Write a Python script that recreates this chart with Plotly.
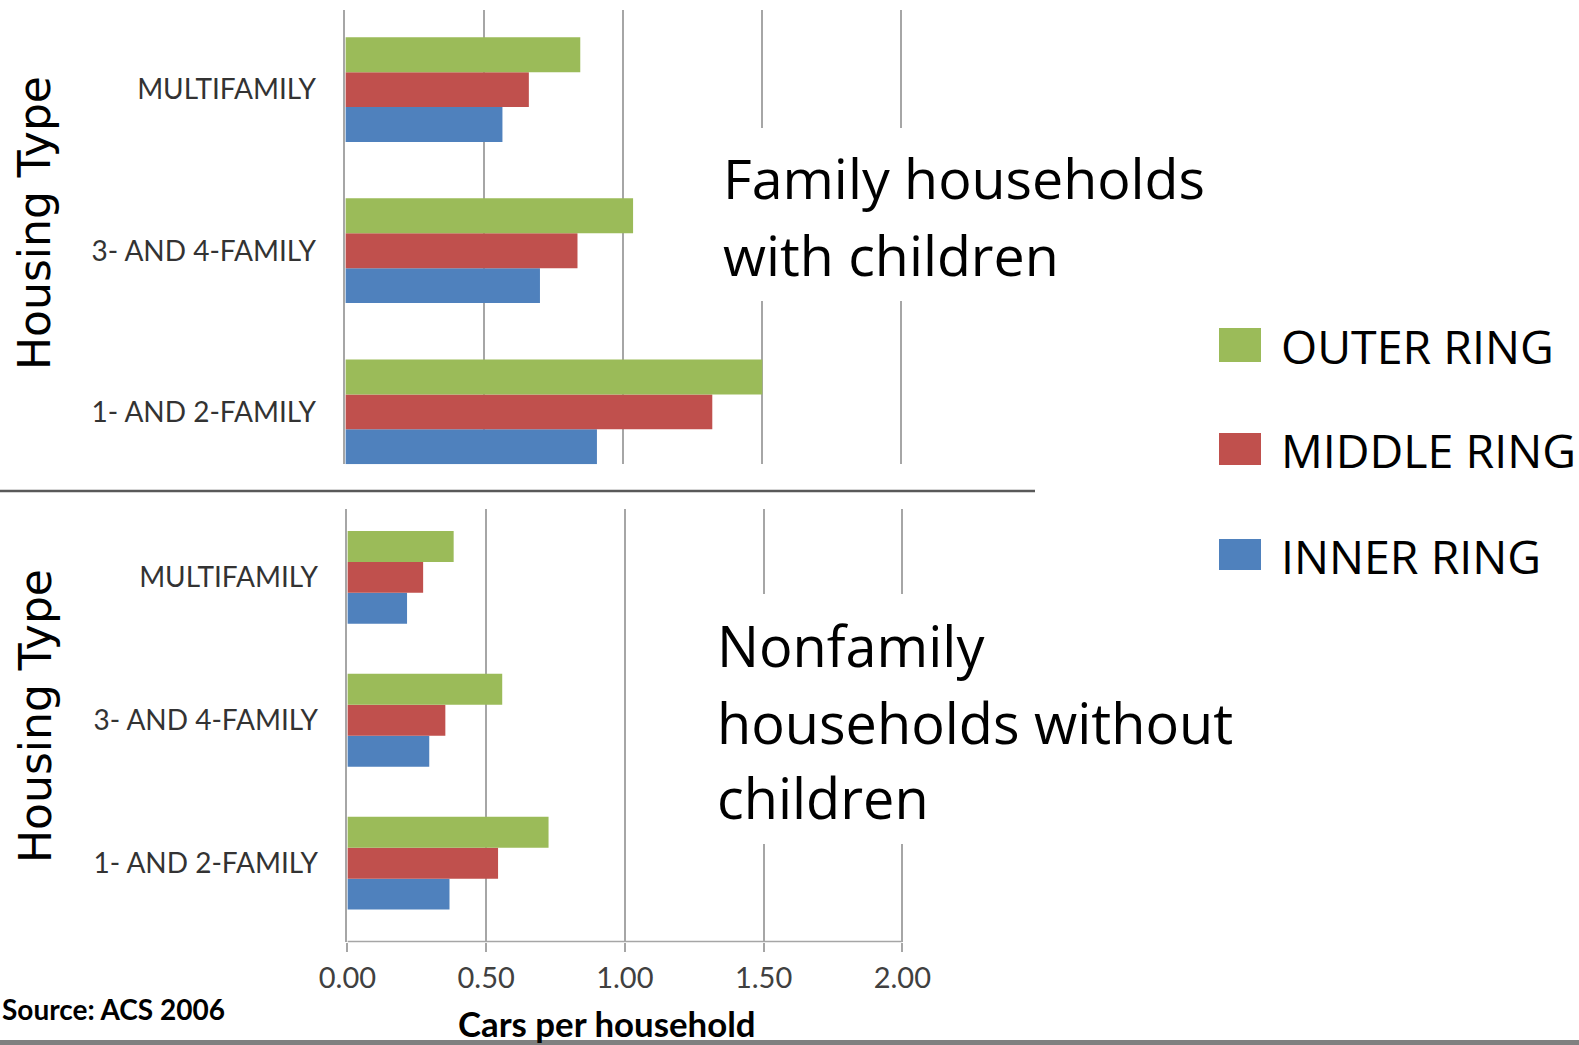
import plotly.graph_objects as go

W, H = 1579, 1045

# ---------------- data ----------------
categories = ["MULTIFAMILY", "3- AND 4-FAMILY", "1- AND 2-FAMILY"]
series_names = ["OUTER RING", "MIDDLE RING", "INNER RING"]

family_outer = [0.845, 1.035, 1.50]
family_middle = [0.66, 0.835, 1.32]
family_inner = [0.565, 0.70, 0.905]

nonfamily_outer = [0.383, 0.558, 0.725]
nonfamily_middle = [0.273, 0.353, 0.543]
nonfamily_inner = [0.215, 0.295, 0.368]

x_tick_vals = [0.0, 0.5, 1.0, 1.5, 2.0]
x_tick_text = ["0.00", "0.50", "1.00", "1.50", "2.00"]

panel_titles = ["Family households", "with children"]
panel2_titles = ["Nonfamily", "households without", "children"]
y_title = "Housing Type"
x_title = "Cars per household"
source_text = "Source: ACS 2006"

colors = {"OUTER RING": "#9BBB59", "MIDDLE RING": "#C0504D", "INNER RING": "#4F81BD"}


def xp(px):
    return px / W


def yp(py):
    return 1 - py / H


fig = go.Figure()

panels = [
    ("x", "y", {"OUTER RING": family_outer, "MIDDLE RING": family_middle, "INNER RING": family_inner}),
    ("x2", "y2", {"OUTER RING": nonfamily_outer, "MIDDLE RING": nonfamily_middle, "INNER RING": nonfamily_inner}),
]
for xa, ya, data in panels:
    # plotly stacks horizontal grouped bars bottom-up: add inner first so outer is on top
    for name in reversed(series_names):
        fig.add_trace(go.Bar(
            y=categories, x=data[name], orientation="h", name=name,
            marker=dict(color=colors[name], line=dict(width=0)),
            xaxis=xa, yaxis=ya, showlegend=False,
        ))

grid_color = "#A6A6A6"
tick_font = dict(family="Lato", size=28, color="#333333")
XMAX = 2.02

fig.update_layout(
    width=W, height=H,
    margin=dict(l=0, r=0, t=0, b=0, autoexpand=False),
    paper_bgcolor="white", plot_bgcolor="white",
    barmode="group", bargap=0.35, bargroupgap=0,
    xaxis=dict(domain=[xp(345.4), xp(345.4 + (901.3 - 345.4) * XMAX / 2)], range=[0, XMAX], anchor="y",
               tickvals=x_tick_vals, showticklabels=False,
               showgrid=True, gridcolor=grid_color, gridwidth=1.5,
               zeroline=False, showline=False, automargin=False),
    yaxis=dict(domain=[yp(464.2), yp(10)], anchor="x",
               categoryorder="array", categoryarray=list(reversed(categories)),
               range=[-0.325, 2.494], showgrid=False, zeroline=False,
               showline=True, linecolor=grid_color, linewidth=1.5,
               ticks="", tickfont=tick_font, ticklabelstandoff=22, automargin=False),
    xaxis2=dict(domain=[xp(347.4), xp(347.4 + (902.3 - 347.4) * XMAX / 2)], range=[0, XMAX], anchor="y2",
                tickvals=x_tick_vals, ticktext=x_tick_text,
                showgrid=True, gridcolor=grid_color, gridwidth=1.5,
                zeroline=False, showline=False,
                ticks="outside", ticklen=9, tickcolor=grid_color, tickwidth=1.5,
                tickfont=dict(family="Lato", size=29, color="#404040"),
                ticklabelstandoff=2, automargin=False),
    yaxis2=dict(domain=[yp(941.6), yp(508.5)], anchor="x2",
                categoryorder="array", categoryarray=list(reversed(categories)),
                range=[-0.549, 2.482], showgrid=False, zeroline=False,
                showline=True, linecolor=grid_color, linewidth=1.5,
                ticks="", tickfont=tick_font, ticklabelstandoff=22, automargin=False),
)

shapes = []
# bottom axis line, ending at the last tick
shapes.append(dict(type="line", xref="x2", yref="paper",
                   x0=0, x1=x_tick_vals[-1], y0=yp(941.6), y1=yp(941.6),
                   line=dict(color=grid_color, width=1.5)))
# white boxes behind panel notes (cover gridlines)
shapes.append(dict(type="rect", xref="paper", yref="paper", layer="above",
                   x0=xp(705), x1=xp(1215), y0=yp(301), y1=yp(128),
                   fillcolor="white", line=dict(width=0)))
shapes.append(dict(type="rect", xref="paper", yref="paper", layer="above",
                   x0=xp(705), x1=xp(1245), y0=yp(844), y1=yp(594),
                   fillcolor="white", line=dict(width=0)))
# separator line between the panels
shapes.append(dict(type="line", xref="paper", yref="paper",
                   x0=0, x1=xp(1035), y0=yp(491), y1=yp(491),
                   line=dict(color="#595959", width=2.5)))
# bottom gray band
shapes.append(dict(type="rect", xref="paper", yref="paper",
                   x0=0, x1=1, y0=0, y1=yp(1040),
                   fillcolor="#808080", line=dict(width=0)))

# legend (manual)
legend_rows = [(328, 362), (433, 465), (539, 570)]
annotations = []
for name, (t, b) in zip(series_names, legend_rows):
    shapes.append(dict(type="rect", xref="paper", yref="paper",
                       x0=xp(1219), x1=xp(1261), y0=yp(b), y1=yp(t),
                       fillcolor=colors[name], line=dict(width=0)))
    annotations.append(dict(xref="paper", yref="paper", x=xp(1279), y=yp((t + b) / 2 + 1),
                            xanchor="left", yanchor="middle", showarrow=False,
                            text=name, font=dict(family="Open Sans", size=46.5, color="black")))

for txt, cy in zip(panel_titles, [177, 254]):
    annotations.append(dict(xref="paper", yref="paper", x=xp(721), y=yp(cy),
                            xanchor="left", yanchor="middle", showarrow=False,
                            text=txt, font=dict(family="Open Sans", size=55.5, color="black")))
for txt, cy in zip(panel2_titles, [645, 722, 797]):
    annotations.append(dict(xref="paper", yref="paper", x=xp(715), y=yp(cy),
                            xanchor="left", yanchor="middle", showarrow=False,
                            text=txt, font=dict(family="Open Sans", size=55.8, color="black")))

# rotated axis titles
for cy in [223, 716]:
    annotations.append(dict(xref="paper", yref="paper", x=xp(35), y=yp(cy),
                            xanchor="center", yanchor="middle", showarrow=False,
                            textangle=-90, text=y_title,
                            font=dict(family="DejaVu Sans", size=44, color="black")))

annotations.append(dict(xref="paper", yref="paper", x=xp(607), y=yp(1023),
                        xanchor="center", yanchor="middle", showarrow=False,
                        text="<b>%s</b>" % x_title,
                        font=dict(family="Lato", size=34.8, color="black")))
annotations.append(dict(xref="paper", yref="paper", x=0, y=yp(1009),
                        xanchor="left", yanchor="middle", showarrow=False,
                        text="<b>%s</b>" % source_text,
                        font=dict(family="Lato", size=28, color="black")))

fig.update_layout(shapes=shapes, annotations=annotations)

fig.write_html("out.html")
